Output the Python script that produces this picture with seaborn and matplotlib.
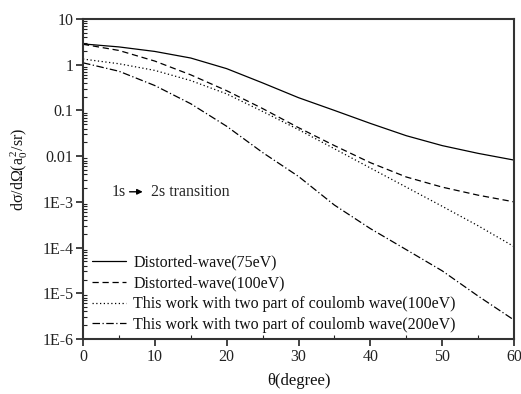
import numpy as np
import pandas as pd
import matplotlib
matplotlib.use("Agg")
import matplotlib.pyplot as plt
import seaborn as sns
from matplotlib.ticker import FixedLocator, LogLocator, NullFormatter

theta = [0, 5, 10, 15, 20, 25, 30, 35, 40, 45, 50, 55, 60]
dw_75 = [2.85, 2.45, 1.95, 1.4, 0.82, 0.40, 0.19, 0.10, 0.052, 0.028, 0.017, 0.0115, 0.0082]
dw_100 = [2.8, 2.05, 1.2, 0.6, 0.27, 0.11, 0.042, 0.017, 0.0072, 0.0035, 0.0021, 0.0014, 0.001]
tw_100 = [1.33, 1.05, 0.75, 0.45, 0.23, 0.095, 0.038, 0.0145, 0.0055, 0.0021, 0.0008, 0.0003, 0.000105]
tw_200 = [1.1, 0.72, 0.35, 0.14, 0.045, 0.012, 0.0036, 0.00085, 0.00026, 9e-5, 3.1e-5, 8.7e-6, 2.6e-6]

labels = ["Distorted-wave(75eV)", "Distorted-wave(100eV)",
          "This work with two part of coulomb wave(100eV)",
          "This work with two part of coulomb wave(200eV)"]
series = [dw_75, dw_100, tw_100, tw_200]
styles = ["-", (0, (5, 3)), (0, (1, 2)), (0, (6, 2, 1, 2))]

ytick_vals = [10, 1, 0.1, 0.01, 1e-3, 1e-4, 1e-5, 1e-6]
ytick_labels = ["10", "1", "0.1", "0.01", "1E-3", "1E-4", "1E-5", "1E-6"]
xtick_vals = [0, 10, 20, 30, 40, 50, 60]

sns.set_theme(style="ticks")
plt.rcParams["font.family"] = ["Liberation Serif", "DejaVu Serif"]
plt.rcParams["mathtext.fontset"] = "custom"
plt.rcParams["mathtext.rm"] = "Liberation Serif"
plt.rcParams["mathtext.it"] = "Liberation Serif:italic"

fig = plt.figure(figsize=(5.21, 3.94), dpi=100)
ax = fig.add_axes([0.1593, 0.1396, 0.8273, 0.8122])

for vals, lab, ls in zip(series, labels, styles):
    df = pd.DataFrame({"theta": theta, "y": vals})
    sns.lineplot(data=df, x="theta", y="y", ax=ax, color="black", lw=0.9,
                 linestyle=ls, label=lab)

ax.set_yscale("log")
ax.set_xlim(0, 60)
ax.set_ylim(1e-6, 10)
ax.set_yticks(ytick_vals)
ax.set_yticklabels(ytick_labels)
ax.set_xticks(xtick_vals)
ax.xaxis.set_minor_locator(FixedLocator([5, 15, 25, 35, 45, 55]))
ax.yaxis.set_minor_locator(LogLocator(base=10, subs=np.arange(2, 10), numticks=20))
ax.yaxis.set_minor_formatter(NullFormatter())

ax.tick_params(which="major", direction="out", length=5, width=1.2, labelsize=11.5,
               colors="#222222", pad=2, top=False, right=False)
ax.tick_params(which="minor", direction="in", length=3, width=0.8, colors="#222222",
               top=False, right=False)
for sp in ax.spines.values():
    sp.set_color("#333333")
    sp.set_linewidth(1.5)
    sp.set_visible(True)

ax.set_xlabel("θ(degree)", fontsize=12, color="#111111", labelpad=6)
ax.set_ylabel("dσ/dΩ(a$_0^{\\,2}$/sr)", fontsize=11.5, color="#111111")
ax.yaxis.set_label_coords(-0.122, 0.53)

ax.text(4.0, 1.66e-3, "1s", fontsize=11.5, va="center", ha="left")
ax.annotate("", xy=(8.7, 1.66e-3), xytext=(6.1, 1.66e-3),
            arrowprops=dict(arrowstyle="-|>", color="black", lw=1.0, mutation_scale=8))
ax.text(9.4, 1.66e-3, "2s transition", fontsize=11.5, va="center", ha="left")

leg = ax.legend(loc="lower left", bbox_to_anchor=(-0.002, -0.011), frameon=False,
                fontsize=11.5, handlelength=2.15, handletextpad=0.45,
                labelspacing=0.3, borderaxespad=0.2)
for t in leg.get_texts():
    t.set_color("#111111")

fig.savefig("out.png", dpi=100)
